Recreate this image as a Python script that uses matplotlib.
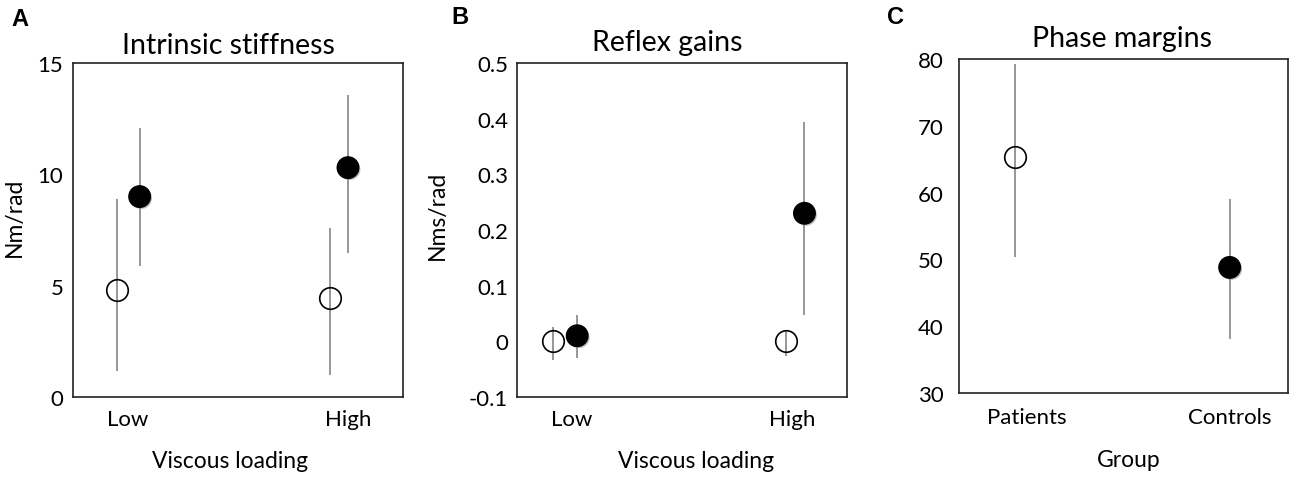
import matplotlib
matplotlib.use("Agg")
import matplotlib.pyplot as plt
import matplotlib.patheffects as pe

plt.rcParams['font.family'] = ['Lato', 'DejaVu Sans']

# ---------------- data ----------------
conditions = ["Low", "High"]
groups = ["Patients", "Controls"]

# Panel A: intrinsic stiffness (Nm/rad)
stiff_patients = [4.8, 4.45]
stiff_patients_lo = [1.15, 1.0]
stiff_patients_hi = [8.9, 7.6]
stiff_controls = [9.0, 10.3]
stiff_controls_lo = [5.9, 6.45]
stiff_controls_hi = [12.1, 13.55]

# Panel B: reflex gains (Nms/rad)
reflex_patients = [0.0, 0.0]
reflex_patients_lo = [-0.033, -0.027]
reflex_patients_hi = [0.026, 0.018]
reflex_controls = [0.01, 0.23]
reflex_controls_lo = [-0.03, 0.047]
reflex_controls_hi = [0.047, 0.394]

# Panel C: phase margins
phase_mean = [65.4, 48.8]
phase_lo = [50.3, 38.1]
phase_hi = [79.2, 59.0]

# horizontal jitter of each series around the category position
A_off_pat = [-0.052, -0.084]
A_off_con = [0.053, 0.0]
B_off_pat = [-0.083, -0.027]
B_off_con = [0.025, 0.058]
C_off = [-0.06, 0.0]

W, H = 1300, 485
fig = plt.figure(figsize=(13, 4.85), dpi=100)

def ax_px(l, t, r, b):
    return fig.add_axes([l / W, 1 - b / H, (r - l) / W, (b - t) / H])

ERR_C = "#7a7a7a"
MS = 15.5
TICK_FS = 16
LAB_FS = 16.5
TITLE_FS = 20.5
shadow = [pe.SimplePatchShadow(offset=(1.2, -1.2), shadow_rgbFace="#999999", alpha=0.6), pe.Normal()]

def draw_point(ax, x, y, lo, hi, filled):
    ax.vlines(x, lo, hi, color=ERR_C, lw=1.1, zorder=2)
    if filled:
        ax.plot([x], [y], 'o', ms=MS, mfc='black', mec='black', mew=1.0, zorder=3,
                path_effects=shadow)
    else:
        ax.plot([x], [y], 'o', ms=MS, mfc='none', mec='black', mew=1.2, zorder=3)

def style(ax, ypad, xpad=9):
    for s in ax.spines.values():
        s.set_linewidth(1.2)
        s.set_color("#222222")
    ax.tick_params(axis='both', length=0, labelsize=TICK_FS)
    ax.tick_params(axis='y', pad=ypad)
    ax.tick_params(axis='x', pad=xpad)

# ---------- Panel A ----------
axA = ax_px(73, 64, 403, 398)
for i in range(2):
    draw_point(axA, i + 1 + A_off_pat[i], stiff_patients[i], stiff_patients_lo[i], stiff_patients_hi[i], False)
    draw_point(axA, i + 1 + A_off_con[i], stiff_controls[i], stiff_controls_lo[i], stiff_controls_hi[i], True)
axA.set_xlim(0.75, 2.25)
axA.set_ylim(0, 15)
axA.set_yticks([0, 5, 10, 15])
axA.set_xticks([1, 2])
axA.set_xticklabels(conditions)
style(axA, 7)
axA.set_title("Intrinsic stiffness", fontsize=TITLE_FS, x=0.47, pad=7)
axA.set_ylabel("Nm/rad", fontsize=LAB_FS)
axA.yaxis.set_label_coords(-0.145, 0.54)
axA.set_xlabel("Viscous loading", fontsize=LAB_FS, va='center')
axA.xaxis.set_label_coords(0.476, -0.19)

# ---------- Panel B ----------
axB = ax_px(516.7, 64, 846.7, 398)
for i in range(2):
    draw_point(axB, i + 1 + B_off_pat[i], reflex_patients[i], reflex_patients_lo[i], reflex_patients_hi[i], False)
    draw_point(axB, i + 1 + B_off_con[i], reflex_controls[i], reflex_controls_lo[i], reflex_controls_hi[i], True)
axB.set_xlim(0.75, 2.25)
axB.set_ylim(-0.1, 0.5)
yt = [-0.1, 0, 0.1, 0.2, 0.3, 0.4, 0.5]
axB.set_yticks(yt)
axB.set_yticklabels(["-0.1", "0", "0.1", "0.2", "0.3", "0.4", "0.5"])
axB.set_xticks([1, 2])
axB.set_xticklabels(conditions)
style(axB, 6)
axB.set_title("Reflex gains", fontsize=TITLE_FS, x=0.455, pad=9)
axB.set_ylabel("Nms/rad", fontsize=LAB_FS)
axB.yaxis.set_label_coords(-0.208, 0.548)
axB.set_xlabel("Viscous loading", fontsize=LAB_FS, va='center')
axB.xaxis.set_label_coords(0.545, -0.19)

# ---------- Panel C ----------
axC = ax_px(959, 60, 1288.3, 394)
for i in range(2):
    draw_point(axC, i + 1 + C_off[i], phase_mean[i], phase_lo[i], phase_hi[i], i == 1)
axC.set_xlim(0.666, 2.289)
axC.set_ylim(30, 80)
axC.set_yticks([30, 40, 50, 60, 70, 80])
axC.set_xticks([1, 2])
axC.set_xticklabels(groups)
style(axC, 11, 10)
axC.set_title("Phase margins", fontsize=TITLE_FS, x=0.494, pad=9.5)
axC.set_xlabel("Group", fontsize=LAB_FS, va='center')
axC.xaxis.set_label_coords(0.515, -0.2)

# panel letters
for lab, x, y in [("A", 20, 19), ("B", 460, 18), ("C", 895, 18)]:
    fig.text(x / W, 1 - y / H, lab, fontsize=17, fontweight='bold',
             family=['Liberation Sans', 'DejaVu Sans'], ha='center', va='center')

fig.savefig("out.png", dpi=100)
